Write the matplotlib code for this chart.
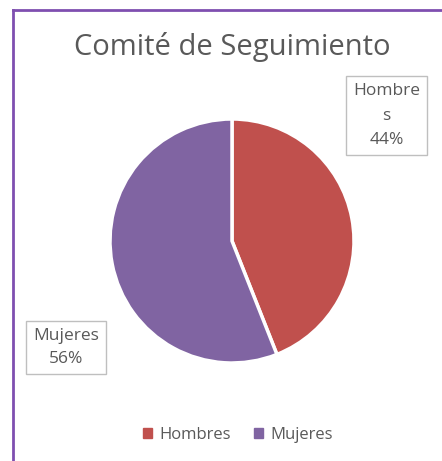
import matplotlib.pyplot as plt
from matplotlib.lines import Line2D

# datos del gráfico
categories = ["Hombres", "Mujeres"]
shares = [44, 56]
colors = ["#C0504D", "#8064A2"]
title = "Comité de Seguimiento"

plt.rcParams["font.family"] = ["Open Sans", "DejaVu Sans"]
text_color = "#595959"

W, H = 442, 461
fig = plt.figure(figsize=(W / 100, H / 100), dpi=100)

# marco morado (solo izquierda y arriba visibles)
fig.add_artist(Line2D([12.5 / W, 12.5 / W], [0, 1 - 10 / H], transform=fig.transFigure,
                      color="#7F4FB0", lw=2))
fig.add_artist(Line2D([12.5 / W, 1], [1 - 10 / H, 1 - 10 / H], transform=fig.transFigure,
                      color="#7F4FB0", lw=2))

# pastel: centro (232, 241), radio 122 px
cx, cy, r = 232, 241, 122
ax = fig.add_axes([(cx - r) / W, 1 - (cy + r) / H, 2 * r / W, 2 * r / H])
wedges, _ = ax.pie(shares, colors=colors, startangle=90, counterclock=False,
                   wedgeprops=dict(edgecolor="white", linewidth=2.5))
ax.set_xlim(-1, 1)
ax.set_ylim(-1, 1)
ax.set_aspect("equal")

fig.text(cx / W, 1 - 47 / H, title, ha="center", va="center",
         fontsize=21, color=text_color)

box = dict(boxstyle="square,pad=0.4", fc="white", ec="#BFBFBF", lw=1)
fig.text(386.5 / W, 1 - 115.5 / H, f"Hombre\ns\n{shares[0]}%", ha="center", va="center",
         fontsize=12.5, color=text_color, bbox=box, linespacing=1.7)
fig.text(66 / W, 1 - 347.5 / H, f"{categories[1]}\n{shares[1]}%", ha="center", va="center",
         fontsize=12.5, color=text_color, bbox=box, linespacing=1.6)

handles = [plt.Rectangle((0, 0), 1, 1, color=c) for c in colors]
fig.legend(handles, categories, loc="center", bbox_to_anchor=(238 / W, 1 - 435 / H),
           ncol=2, frameon=False, fontsize=12, labelcolor=text_color,
           handlelength=0.55, handleheight=0.55, handletextpad=0.45, columnspacing=1.4)

fig.savefig("out.png", dpi=100, facecolor="white")
